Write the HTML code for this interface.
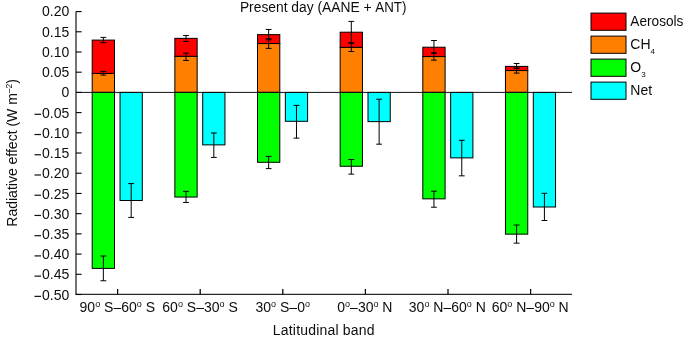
<!DOCTYPE html>
<html><head><meta charset="utf-8"><style>
html,body{margin:0;padding:0;background:#fff;}
svg{display:block;will-change:transform;}
text{font-family:"Liberation Sans", sans-serif;font-size:14px;fill:#0d0d0d;}
</style></head><body>
<svg width="685" height="338" viewBox="0 0 685 338">
<rect x="92.2" y="73.4" width="22.3" height="19" fill="#ff8000" stroke="#000" stroke-width="1.0"/>
<rect x="92.2" y="40.1" width="22.3" height="33.3" fill="#ff0000" stroke="#000" stroke-width="1.0"/>
<rect x="92.2" y="92.4" width="22.3" height="176" fill="#00ff00" stroke="#000" stroke-width="1.0"/>
<rect x="120.05" y="92.4" width="22.25" height="108.1" fill="#00ffff" stroke="#000" stroke-width="1.0"/>
<rect x="174.85" y="56.27" width="22.3" height="36.13" fill="#ff8000" stroke="#000" stroke-width="1.0"/>
<rect x="174.85" y="38.35" width="22.3" height="17.92" fill="#ff0000" stroke="#000" stroke-width="1.0"/>
<rect x="174.85" y="92.4" width="22.3" height="104.66" fill="#00ff00" stroke="#000" stroke-width="1.0"/>
<rect x="202.7" y="92.4" width="22.25" height="52.48" fill="#00ffff" stroke="#000" stroke-width="1.0"/>
<rect x="257.5" y="43.54" width="22.3" height="48.86" fill="#ff8000" stroke="#000" stroke-width="1.0"/>
<rect x="257.5" y="34.63" width="22.3" height="8.91" fill="#ff0000" stroke="#000" stroke-width="1.0"/>
<rect x="257.5" y="92.4" width="22.3" height="69.89" fill="#00ff00" stroke="#000" stroke-width="1.0"/>
<rect x="285.35" y="92.4" width="22.25" height="28.9" fill="#00ffff" stroke="#000" stroke-width="1.0"/>
<rect x="340.15" y="47.3" width="22.3" height="45.1" fill="#ff8000" stroke="#000" stroke-width="1.0"/>
<rect x="340.15" y="32.2" width="22.3" height="15.1" fill="#ff0000" stroke="#000" stroke-width="1.0"/>
<rect x="340.15" y="92.4" width="22.3" height="73.86" fill="#00ff00" stroke="#000" stroke-width="1.0"/>
<rect x="368" y="92.4" width="22.25" height="29.22" fill="#00ffff" stroke="#000" stroke-width="1.0"/>
<rect x="422.8" y="56.54" width="22.3" height="35.86" fill="#ff8000" stroke="#000" stroke-width="1.0"/>
<rect x="422.8" y="47.22" width="22.3" height="9.32" fill="#ff0000" stroke="#000" stroke-width="1.0"/>
<rect x="422.8" y="92.4" width="22.3" height="106.45" fill="#00ff00" stroke="#000" stroke-width="1.0"/>
<rect x="450.65" y="92.4" width="22.25" height="65.49" fill="#00ffff" stroke="#000" stroke-width="1.0"/>
<rect x="505.45" y="70.53" width="22.3" height="21.87" fill="#ff8000" stroke="#000" stroke-width="1.0"/>
<rect x="505.45" y="66.39" width="22.3" height="4.14" fill="#ff0000" stroke="#000" stroke-width="1.0"/>
<rect x="505.45" y="92.4" width="22.3" height="141.76" fill="#00ff00" stroke="#000" stroke-width="1.0"/>
<rect x="533.3" y="92.4" width="22.25" height="114.6" fill="#00ffff" stroke="#000" stroke-width="1.0"/>
<path d="M103.35 37.4V42.7M100.45 37.4H106.25M100.45 42.7H106.25" stroke="#000" stroke-width="1.0" fill="none"/>
<path d="M103.35 71.4V75.1M100.45 71.4H106.25M100.45 75.1H106.25" stroke="#000" stroke-width="1.0" fill="none"/>
<path d="M103.35 256V280.75M100.45 256H106.25M100.45 280.75H106.25" stroke="#000" stroke-width="1.0" fill="none"/>
<path d="M131.18 183.6V217.4M128.28 183.6H134.08M128.28 217.4H134.08" stroke="#000" stroke-width="1.0" fill="none"/>
<path d="M186 35.56V41.46M183.1 35.56H188.9M183.1 41.46H188.9" stroke="#000" stroke-width="1.0" fill="none"/>
<path d="M186 53.16V60.41M183.1 53.16H188.9M183.1 60.41H188.9" stroke="#000" stroke-width="1.0" fill="none"/>
<path d="M186 191.36V202.44M183.1 191.36H188.9M183.1 202.44H188.9" stroke="#000" stroke-width="1.0" fill="none"/>
<path d="M213.83 132.97V157.41M210.93 132.97H216.73M210.93 157.41H216.73" stroke="#000" stroke-width="1.0" fill="none"/>
<path d="M268.65 29.46V39.81M265.75 29.46H271.55M265.75 39.81H271.55" stroke="#000" stroke-width="1.0" fill="none"/>
<path d="M268.65 38.6V48.4M265.75 38.6H271.55M265.75 48.4H271.55" stroke="#000" stroke-width="1.0" fill="none"/>
<path d="M268.65 156.39V168.61M265.75 156.39H271.55M265.75 168.61H271.55" stroke="#000" stroke-width="1.0" fill="none"/>
<path d="M296.48 105.36V138.12M293.58 105.36H299.38M293.58 138.12H299.38" stroke="#000" stroke-width="1.0" fill="none"/>
<path d="M351.3 21.42V42.9M348.4 21.42H354.2M348.4 42.9H354.2" stroke="#000" stroke-width="1.0" fill="none"/>
<path d="M351.3 43.1V51.54M348.4 43.1H354.2M348.4 51.54H354.2" stroke="#000" stroke-width="1.0" fill="none"/>
<path d="M351.3 159.53V174.13M348.4 159.53H354.2M348.4 174.13H354.2" stroke="#000" stroke-width="1.0" fill="none"/>
<path d="M379.13 99.24V144.18M376.23 99.24H382.03M376.23 144.18H382.03" stroke="#000" stroke-width="1.0" fill="none"/>
<path d="M433.95 40.49V53.4M431.05 40.49H436.85M431.05 53.4H436.85" stroke="#000" stroke-width="1.0" fill="none"/>
<path d="M433.95 52.9V60.17M431.05 52.9H436.85M431.05 60.17H436.85" stroke="#000" stroke-width="1.0" fill="none"/>
<path d="M433.95 191.18V207.23M431.05 191.18H436.85M431.05 207.23H436.85" stroke="#000" stroke-width="1.0" fill="none"/>
<path d="M461.78 140.3V175.83M458.88 140.3H464.68M458.88 175.83H464.68" stroke="#000" stroke-width="1.0" fill="none"/>
<path d="M516.6 63.49V68.46M513.7 63.49H519.5M513.7 68.46H519.5" stroke="#000" stroke-width="1.0" fill="none"/>
<path d="M516.6 67.9V73.12M513.7 67.9H519.5M513.7 73.12H519.5" stroke="#000" stroke-width="1.0" fill="none"/>
<path d="M516.6 225.04V243.17M513.7 225.04H519.5M513.7 243.17H519.5" stroke="#000" stroke-width="1.0" fill="none"/>
<path d="M544.42 193.32V220.5M541.52 193.32H547.32M541.52 220.5H547.32" stroke="#000" stroke-width="1.0" fill="none"/>
<path d="M76 92.4H572" stroke="#111" stroke-width="1.0"/>
<path d="M76 11.55V294.4" stroke="#000" stroke-width="1.1" fill="none"/>
<path d="M75.45 294.4H572" stroke="#2a2a2a" stroke-width="1.1" fill="none"/>
<path d="M76 11.56H81.6" stroke="#000" stroke-width="1.1"/>
<path d="M76 31.77H81.6" stroke="#000" stroke-width="1.1"/>
<path d="M76 51.98H81.6" stroke="#000" stroke-width="1.1"/>
<path d="M76 72.19H81.6" stroke="#000" stroke-width="1.1"/>
<path d="M76 92.4H81.6" stroke="#000" stroke-width="1.1"/>
<path d="M76 112.61H81.6" stroke="#000" stroke-width="1.1"/>
<path d="M76 132.82H81.6" stroke="#000" stroke-width="1.1"/>
<path d="M76 153.03H81.6" stroke="#000" stroke-width="1.1"/>
<path d="M76 173.24H81.6" stroke="#000" stroke-width="1.1"/>
<path d="M76 193.45H81.6" stroke="#000" stroke-width="1.1"/>
<path d="M76 213.66H81.6" stroke="#000" stroke-width="1.1"/>
<path d="M76 233.87H81.6" stroke="#000" stroke-width="1.1"/>
<path d="M76 254.08H81.6" stroke="#000" stroke-width="1.1"/>
<path d="M76 274.29H81.6" stroke="#000" stroke-width="1.1"/>
<path d="M76 294.5H81.6" stroke="#000" stroke-width="1.1"/>
<path d="M117.6 294.4V289" stroke="#000" stroke-width="1.25"/>
<path d="M200.2 294.4V289" stroke="#000" stroke-width="1.25"/>
<path d="M282.8 294.4V289" stroke="#000" stroke-width="1.25"/>
<path d="M365.4 294.4V289" stroke="#000" stroke-width="1.25"/>
<path d="M448 294.4V289" stroke="#000" stroke-width="1.25"/>
<path d="M530.6 294.4V289" stroke="#000" stroke-width="1.25"/>
<text x="69.3" y="16.45" text-anchor="end">0.20</text>
<text x="69.3" y="36.68" text-anchor="end">0.15</text>
<text x="69.3" y="56.91" text-anchor="end">0.10</text>
<text x="69.3" y="77.14" text-anchor="end">0.05</text>
<text x="69.3" y="97.37" text-anchor="end">0</text>
<text x="69.3" y="117.6" text-anchor="end">0.05</text>
<path d="M34.5 114.3H41" stroke="#111" stroke-width="1.2"/>
<text x="69.3" y="137.83" text-anchor="end">0.10</text>
<path d="M34.5 134.53H41" stroke="#111" stroke-width="1.2"/>
<text x="69.3" y="158.06" text-anchor="end">0.15</text>
<path d="M34.5 154.76H41" stroke="#111" stroke-width="1.2"/>
<text x="69.3" y="178.29" text-anchor="end">0.20</text>
<path d="M34.5 174.99H41" stroke="#111" stroke-width="1.2"/>
<text x="69.3" y="198.52" text-anchor="end">0.25</text>
<path d="M34.5 195.22H41" stroke="#111" stroke-width="1.2"/>
<text x="69.3" y="218.75" text-anchor="end">0.30</text>
<path d="M34.5 215.45H41" stroke="#111" stroke-width="1.2"/>
<text x="69.3" y="238.98" text-anchor="end">0.35</text>
<path d="M34.5 235.68H41" stroke="#111" stroke-width="1.2"/>
<text x="69.3" y="259.21" text-anchor="end">0.40</text>
<path d="M34.5 255.91H41" stroke="#111" stroke-width="1.2"/>
<text x="69.3" y="279.44" text-anchor="end">0.45</text>
<path d="M34.5 276.14H41" stroke="#111" stroke-width="1.2"/>
<text x="69.3" y="299.67" text-anchor="end">0.50</text>
<path d="M34.5 296.37H41" stroke="#111" stroke-width="1.2"/>
<text x="117.3" y="312.35" text-anchor="middle">90<tspan font-size="9" dy="-5">o</tspan><tspan dy="5"> S–60</tspan><tspan font-size="9" dy="-5">o</tspan><tspan dy="5"> S</tspan></text>
<text x="200.05" y="312.35" text-anchor="middle">60<tspan font-size="9" dy="-5">o</tspan><tspan dy="5"> S–30</tspan><tspan font-size="9" dy="-5">o</tspan><tspan dy="5"> S</tspan></text>
<text x="282.75" y="312.35" text-anchor="middle">30<tspan font-size="9" dy="-5">o</tspan><tspan dy="5"> S–0</tspan><tspan font-size="9" dy="-5">o</tspan><tspan dy="5"></tspan></text>
<text x="364.9" y="312.35" text-anchor="middle">0<tspan font-size="9" dy="-5">o</tspan><tspan dy="5">–30</tspan><tspan font-size="9" dy="-5">o</tspan><tspan dy="5"> N</tspan></text>
<text x="447.3" y="312.35" text-anchor="middle">30<tspan font-size="9" dy="-5">o</tspan><tspan dy="5"> N–60</tspan><tspan font-size="9" dy="-5">o</tspan><tspan dy="5"> N</tspan></text>
<text x="530.25" y="312.35" text-anchor="middle">60<tspan font-size="9" dy="-5">o</tspan><tspan dy="5"> N–90</tspan><tspan font-size="9" dy="-5">o</tspan><tspan dy="5"> N</tspan></text>
<text x="272.85" y="334.75" textLength="101.6" lengthAdjust="spacing">Latitudinal band</text>
<text transform="translate(16.5 152.85) rotate(-90)" text-anchor="middle">Radiative effect (W m<tspan font-size="8.5" dy="-5">–2</tspan><tspan dy="5">)</tspan></text>
<text x="239.9" y="11.5" font-size="13.9" textLength="119.8" lengthAdjust="spacingAndGlyphs">Present day (AANE</text>
<text x="363.5" y="11.5" font-size="13.9">+</text>
<text x="375.3" y="11.5" font-size="13.9" textLength="31.1" lengthAdjust="spacingAndGlyphs">ANT)</text>
<rect x="591" y="13.1" width="35" height="17.2" fill="#ff0000" stroke="#000" stroke-width="1.0"/>
<text x="630.35" y="26.3" textLength="53.1" lengthAdjust="spacingAndGlyphs">Aerosols</text>
<rect x="591" y="36.1" width="35" height="17.2" fill="#ff8000" stroke="#000" stroke-width="1.0"/>
<text x="630.35" y="49.3">CH<tspan font-size="8" dy="4.2">4</tspan></text>
<rect x="591" y="59.1" width="35" height="17.2" fill="#00ff00" stroke="#000" stroke-width="1.0"/>
<text x="630.35" y="72.3">O<tspan font-size="8" dy="4.2">3</tspan></text>
<rect x="591" y="82.1" width="35" height="17.2" fill="#00ffff" stroke="#000" stroke-width="1.0"/>
<text x="630.35" y="95.3">Net</text>
</svg>
</body></html>
